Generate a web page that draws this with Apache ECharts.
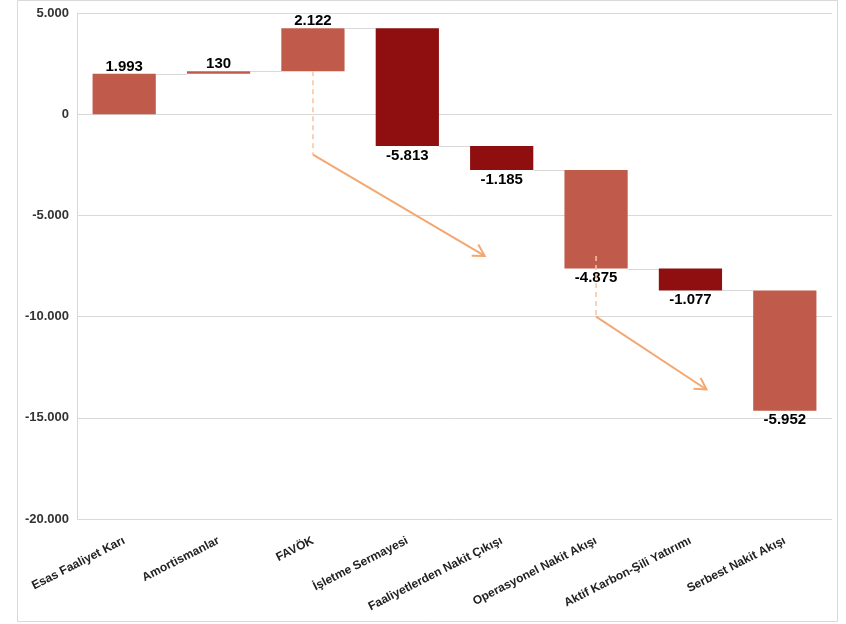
<!DOCTYPE html>
<html>
<head>
<meta charset="utf-8">
<script src="https://cdn.jsdelivr.net/npm/echarts@6/dist/echarts.min.js"></script>
<style>
  html, body { margin: 0; padding: 0; background: #fff; }
  #chart { width: 846px; height: 624px; }
</style>
</head>
<body>
<div id="chart"></div>
<script>
// Cash-flow bridge (waterfall) from operating profit to free cash flow
const categories = [
  'Esas Faaliyet Karı',
  'Amortismanlar',
  'FAVÖK',
  'İşletme Sermayesi',
  'Faaliyetlerden Nakit Çıkışı',
  'Operasyonel Nakit Akışı',
  'Aktif Karbon-Şili Yatırımı',
  'Serbest Nakit Akışı'
];
const changes = [1993, 130, 2122, -5813, -1185, -4875, -1077, -5952];
const barTone = ['light', 'light', 'light', 'dark', 'dark', 'light', 'dark', 'light'];
const yTickValues = [-20000, -15000, -10000, -5000, 0, 5000];

// Trend arrows: dashed drop from the start point to the bend, then a solid arrow
// [startX, startY, bendX, bendY, endX, endY] in category-index / value units
const trendArrows = [
  [2, 2123, 2, -2000, 3.82, -7000],
  [5, -7000, 5, -10000, 6.17, -13600]
];

const toneColor = { light: '#C05A4A', dark: '#8F0E10' };
const fontFamily = '"Liberation Sans", Arial, sans-serif';

function trNumber(v) {
  const s = Math.abs(Math.round(v)).toString().replace(/\B(?=(\d{3})+(?!\d))/g, '.');
  return (v < 0 ? '-' : '') + s;
}

// Running totals give each floating bar its start and end
const barData = [];
let level = 0;
changes.forEach((c, i) => {
  barData.push([i, level, level + c, c]);
  level += c;
});

const chart = echarts.init(document.getElementById('chart'));

chart.setOption({
  animation: false,
  grid: { left: 77, right: 14, top: 13, bottom: 105 },
  graphic: [{
    type: 'rect',
    shape: { x: 17.5, y: 0.5, width: 820, height: 621 },
    style: { fill: 'none', stroke: '#d9d9d9', lineWidth: 1 },
    silent: true,
    z: -1
  }],
  xAxis: [{
    type: 'category',
    data: categories,
    axisLine: { show: false },
    axisTick: { show: false },
    axisLabel: {
      interval: 0,
      rotate: 27,
      margin: 21,
      fontFamily: fontFamily,
      fontWeight: 'bold',
      fontSize: 12,
      color: '#222'
    }
  }, {
    type: 'value',
    min: -0.5,
    max: 7.5,
    show: false
  }],
  yAxis: {
    type: 'value',
    min: yTickValues[0],
    max: yTickValues[yTickValues.length - 1],
    interval: 5000,
    axisLine: { show: true, onZero: false, lineStyle: { color: '#d9d9d9', width: 1 } },
    axisTick: { show: false },
    splitLine: { lineStyle: { color: '#d9d9d9', width: 1 } },
    axisLabel: {
      margin: 8,
      fontFamily: fontFamily,
      fontWeight: 'bold',
      fontSize: 13,
      color: '#333',
      formatter: v => trNumber(v)
    }
  },
  series: [{
    type: 'custom',
    xAxisIndex: 0,
    encode: { x: 0, y: [1, 2] },
    data: barData,
    renderItem: function (params, api) {
      const i = api.value(0);
      const start = api.value(1);
      const end = api.value(2);
      const delta = api.value(3);
      const bandW = api.size([1, 0])[0];
      const w = bandW * 0.67;
      const pStart = api.coord([i, start]);
      const pEnd = api.coord([i, end]);
      const top = Math.min(pStart[1], pEnd[1]);
      const bottom = Math.max(pStart[1], pEnd[1]);
      const children = [{
        type: 'rect',
        shape: { x: pStart[0] - w / 2, y: top, width: w, height: Math.max(bottom - top, 1) },
        style: { fill: toneColor[barTone[i]] }
      }];
      if (i < categories.length - 1) {
        const pNext = api.coord([i + 1, end]);
        children.push({
          type: 'line',
          shape: { x1: pEnd[0] + w / 2, y1: Math.round(pEnd[1]) + 0.5, x2: pNext[0] - w / 2, y2: Math.round(pEnd[1]) + 0.5 },
          style: { stroke: '#d9d9d9', lineWidth: 1 }
        });
      }
      children.push({
        type: 'text',
        style: {
          text: trNumber(delta),
          x: pStart[0],
          y: delta >= 0 ? top : bottom + 2,
          align: 'center',
          verticalAlign: delta >= 0 ? 'bottom' : 'top',
          font: 'bold 15px ' + fontFamily,
          fill: '#000'
        }
      });
      return { type: 'group', children: children };
    },
    z: 2
  }, {
    type: 'custom',
    xAxisIndex: 1,
    encode: { x: [0, 2, 4], y: [1, 3, 5] },
    data: trendArrows,
    renderItem: function (params, api) {
      const a = api.coord([api.value(0), api.value(1)]);
      const b = api.coord([api.value(2), api.value(3)]);
      const c = api.coord([api.value(4), api.value(5)]);
      const ang = Math.atan2(c[1] - b[1], c[0] - b[0]);
      const head = 13;
      const spread = Math.PI / 6;
      const h1 = [c[0] - head * Math.cos(ang - spread), c[1] - head * Math.sin(ang - spread)];
      const h2 = [c[0] - head * Math.cos(ang + spread), c[1] - head * Math.sin(ang + spread)];
      return {
        type: 'group',
        children: [{
          type: 'line',
          shape: { x1: a[0], y1: a[1], x2: b[0], y2: b[1] },
          style: { stroke: '#F8C4A2', lineWidth: 1.5, lineDash: [5, 4] }
        }, {
          type: 'line',
          shape: { x1: b[0], y1: b[1], x2: c[0], y2: c[1] },
          style: { stroke: '#F4A772', lineWidth: 2 }
        }, {
          type: 'polyline',
          shape: { points: [h1, c, h2] },
          style: { stroke: '#F4A772', lineWidth: 2, fill: 'none', lineJoin: 'miter' }
        }]
      };
    },
    z: 3
  }]
});
</script>
</body>
</html>
